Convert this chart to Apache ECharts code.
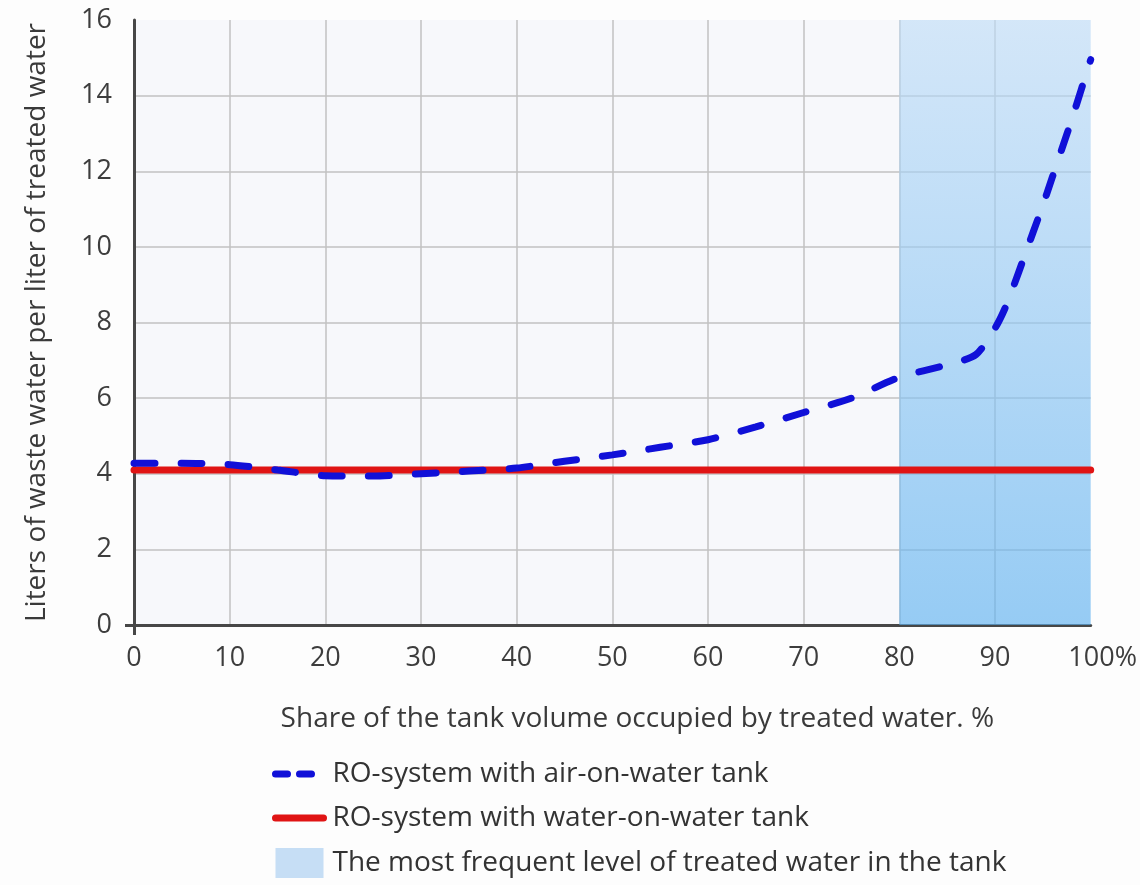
<!DOCTYPE html>
<html>
<head>
<meta charset="utf-8">
<script src="https://cdn.jsdelivr.net/npm/echarts@6/dist/echarts.min.js"></script>
<style>
html,body{margin:0;padding:0;background:#fdfdfd;}
#chart{width:1140px;height:885px;}
</style>
</head>
<body>
<div id="chart"></div>
<script>
// ---- data ----
const airX = [0,5,10,15,20,25,30,35,40,45,50,55,60,65,70,75,80,85,88,90,91,92,93,94,95,96,97,98,99,100];
const airY = [4.28,4.28,4.24,4.1,3.95,3.94,4.0,4.07,4.15,4.33,4.5,4.7,4.9,5.24,5.62,6.0,6.55,6.88,7.15,7.85,8.35,9.0,9.7,10.4,11.1,11.85,12.6,13.35,14.15,14.95];
const waterX = [0,100];
const waterY = [4.1,4.1];
const bandX = [80,100];
const bandY = [16,16];
const xTicks = [0,10,20,30,40,50,60,70,80,90,100];
const yTicks = [0,2,4,6,8,10,12,14,16];
const names = ['RO-system with air-on-water tank','RO-system with water-on-water tank','The most frequent level of treated water in the tank'];
const xTitle = 'Share of the tank volume occupied by treated water. %';
const yTitle = 'Liters of waste water per liter of treated water';

const zip = (a,b) => a.map((v,i)=>[v,b[i]]);
const FONT = 'Open Sans';
const AX = '#474747';
const chart = echarts.init(document.getElementById('chart'), null, {renderer:'canvas'});
const xMin = xTicks[0], xMax = xTicks[xTicks.length-1];
const yMin = yTicks[0], yMax = yTicks[yTicks.length-1];
chart.setOption({
  backgroundColor:'#fdfdfd',
  animation:false,
  textStyle:{fontFamily:FONT},
  grid:{left:134,right:48,top:20,bottom:260,show:true,backgroundColor:'#f7f8fb',borderWidth:0},
  xAxis:[{
    type:'value',min:xMin,max:xMax,interval:10,
    name:xTitle,nameLocation:'middle',nameGap:80,
    nameTextStyle:{fontSize:28,color:'#3a3a3a',fontFamily:FONT,padding:[0,0,0,50]},
    axisLine:{show:true,onZero:false,lineStyle:{color:AX,width:3}},
    axisTick:{show:false},
    axisLabel:{margin:20,fontSize:27,color:'#3d3d3d',
      formatter:v=> v===100 ? '{p|100%}' : String(v),
      rich:{p:{fontSize:27,color:'#3d3d3d',padding:[0,0,0,24]}}},
    splitLine:{show:true,showMinLine:false,showMaxLine:false,lineStyle:{color:'#c2c2c2',width:1.5}}
  },{
    type:'value',min:xMin,max:xMax,position:'bottom',
    axisLine:{show:false},axisLabel:{show:false},splitLine:{show:false},
    axisTick:{show:true,customValues:[0],length:10,lineStyle:{color:AX,width:3}}
  }],
  yAxis:[{
    type:'value',min:yMin,max:yMax,interval:2,
    name:yTitle,nameLocation:'middle',nameGap:83,
    nameTextStyle:{fontSize:28,color:'#3a3a3a',fontFamily:FONT},
    axisLine:{show:true,lineStyle:{color:AX,width:3}},
    axisTick:{show:false},
    axisLabel:{margin:22,fontSize:27,color:'#3d3d3d'},
    splitLine:{show:true,showMinLine:false,showMaxLine:false,lineStyle:{color:'#c2c2c2',width:1.5}}
  },{
    type:'value',min:yMin,max:yMax,position:'left',
    axisLine:{show:false},axisLabel:{show:false},splitLine:{show:false},
    axisTick:{show:true,customValues:[0],length:9,lineStyle:{color:AX,width:3}}
  }],
  legend:{
    orient:'vertical',left:272,top:760,height:125,padding:0,itemWidth:48,itemHeight:30,itemGap:16,
    textStyle:{fontSize:28,color:'#333',fontFamily:FONT,padding:[0,0,0,4]},
    data:[
      {name:names[0],itemStyle:{color:'rgba(0,0,0,0)',borderWidth:0},lineStyle:{type:[12,12],width:7,cap:'round'}},
      {name:names[1],itemStyle:{color:'rgba(0,0,0,0)',borderWidth:0},lineStyle:{width:7,cap:'round'}},
      {name:names[2],icon:'rect',itemStyle:{color:'#c6def5'}}
    ]
  },
  series:[
    {name:names[2],type:'line',data:zip(bandX,bandY),symbol:'none',z:1,
      lineStyle:{width:0},
      itemStyle:{color:'#c6def5'},
      areaStyle:{opacity:1,color:new echarts.graphic.LinearGradient(0,0,0,1,[
        {offset:0,color:'rgba(190,220,247,0.62)'},
        {offset:1,color:'rgba(95,178,240,0.64)'}])}},
    {name:names[1],type:'line',data:zip(waterX,waterY),symbol:'none',z:3,
      itemStyle:{color:'#e01414'},
      lineStyle:{color:'#e01414',width:7,cap:'round'}},
    {name:names[0],type:'line',data:zip(airX,airY),symbol:'none',z:4,smooth:0.25,
      itemStyle:{color:'#1010d8'},
      lineStyle:{color:'#1010d8',width:7,type:[21,26],cap:'round'}}
  ]
});
</script>
</body>
</html>
